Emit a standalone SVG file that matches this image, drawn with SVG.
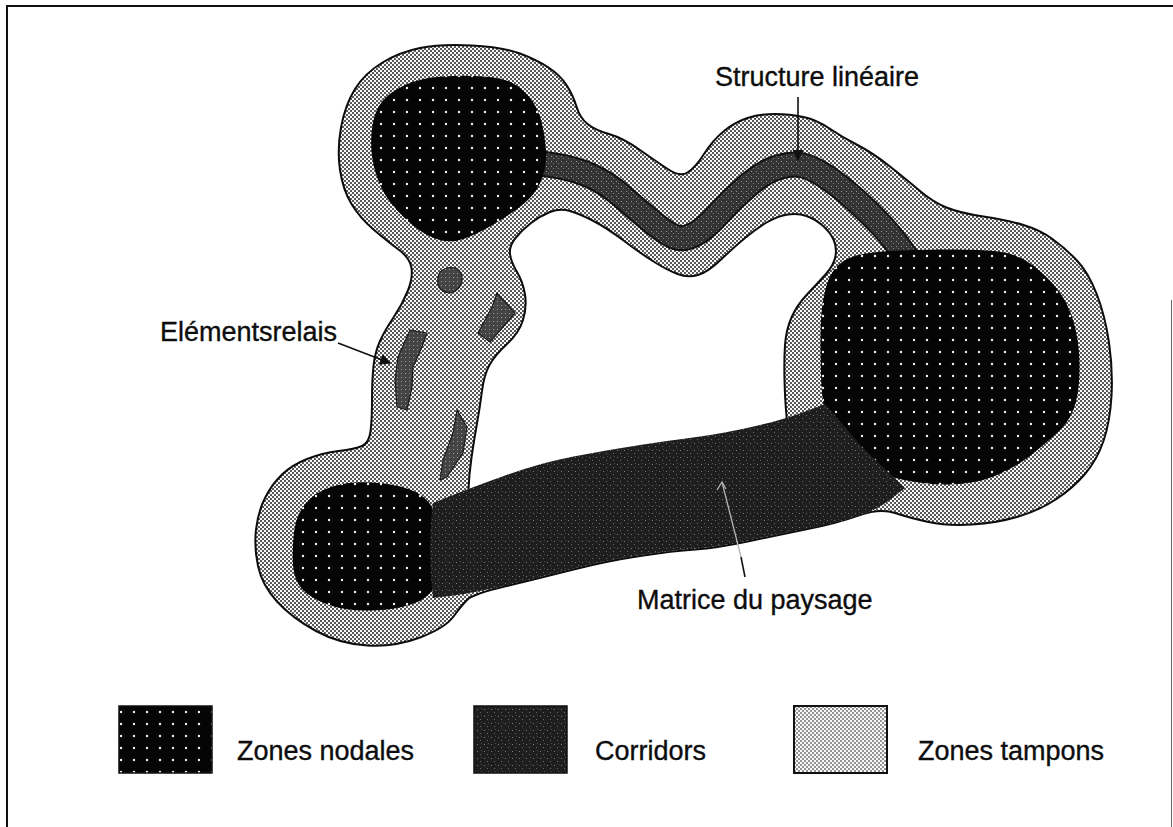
<svg xmlns="http://www.w3.org/2000/svg" width="1173" height="827" viewBox="0 0 1173 827">
<style>
.lbl{font-family:"Liberation Sans",Arial,Helvetica,sans-serif;font-size:27px;fill:#0d0d0d;stroke:#0d0d0d;stroke-width:0.35}
.buf{fill:url(#pB);fill-rule:evenodd;stroke:#0d0d0d;stroke-width:2;stroke-linejoin:round}
.nod{fill:url(#pN)}
.cor{fill:url(#pC)}
.rel{fill:url(#pR);stroke:#1a1a1a;stroke-width:1.2;stroke-linejoin:round}
.lead{stroke:#111;stroke-width:1.6;fill:none}
</style>
<defs>
<pattern id="pN" width="13" height="12" patternUnits="userSpaceOnUse">
<rect width="13" height="12" fill="#050505"/>
<circle cx="4" cy="4" r="1.2" fill="#f2f2f2"/>
</pattern>
<pattern id="pB" width="4" height="4" patternUnits="userSpaceOnUse">
<rect width="4" height="4" fill="#fafafa"/>
<circle cx="1" cy="1" r="0.92" fill="#111"/>
<circle cx="3" cy="3" r="0.92" fill="#111"/>
</pattern>
<pattern id="pL" width="4" height="4" patternUnits="userSpaceOnUse">
<rect width="4" height="4" fill="#fafafa"/>
<circle cx="1" cy="1" r="0.8" fill="#111"/>
<circle cx="3" cy="3" r="0.8" fill="#111"/>
</pattern>
<pattern id="pC" width="7" height="7" patternUnits="userSpaceOnUse">
<rect width="7" height="7" fill="#1e1e1e"/>
<rect x="1" y="2" width="1" height="1" fill="#7a7a7a"/>
<rect x="4" y="5" width="1" height="1" fill="#6a6a6a"/>
<rect x="5" y="1" width="1" height="1" fill="#4a4a4a"/>
</pattern>
<pattern id="pS" width="5" height="5" patternUnits="userSpaceOnUse">
<rect width="5" height="5" fill="#333"/>
<rect x="1" y="1" width="1" height="1" fill="#999"/>
<rect x="3" y="3" width="1" height="1" fill="#808080"/>
</pattern>
<pattern id="pR" width="4" height="4" patternUnits="userSpaceOnUse">
<rect width="4" height="4" fill="#444"/>
<rect x="1" y="1" width="1" height="1" fill="#999"/>
</pattern>
<marker id="ah" viewBox="0 0 10 10" refX="9" refY="5" markerWidth="11" markerHeight="11" markerUnits="userSpaceOnUse" orient="auto">
<path d="M0,0 L10,5 L0,10 Z" fill="#111"/>
</marker>
</defs>

<g id="frame" fill="none" stroke="#111">
<path d="M7,827 V6 H1173" stroke-width="2"/>
<path d="M1171.5,300 V827" stroke-width="1" stroke="#666"/>
</g>

<g id="zone-tampon">
<path class="buf" d="M340,170 Q337,150 341,127.5 Q345,105 355,89 Q365,73 382.5,62.5 Q400,52 420,48 Q440,44 471.5,45.5 Q503,47 520,53.5 Q537,60 548.5,67.5 Q560,75 566.5,85 Q573,95 576.5,106.5 Q580,118 587.5,124 Q595,130 609,134 Q623,138 640,150 Q657,162 668.5,169.5 Q680,177 687.5,172.5 Q695,168 704,154 Q713,140 724,131 Q735,122 747.5,118 Q760,114 775,114 Q790,114 803.5,117 Q817,120 829.5,128.5 Q842,137 857.5,145 Q873,153 890,166.5 Q907,180 920,191 Q933,202 946.5,207.5 Q960,213 983.5,216.5 Q1007,220 1023.5,225 Q1040,230 1052.5,239 Q1065,248 1076.5,260 Q1088,272 1096.5,293.5 Q1105,315 1109,342.5 Q1113,370 1111.5,396 Q1110,422 1103.5,441 Q1097,460 1085,474 Q1073,488 1056.5,499 Q1040,510 1018.5,516.5 Q997,523 972,524.5 Q947,526 928.5,522 Q910,518 895,513 Q880,508 858.5,515.5 Q837,523 810,528.5 Q783,534 750,541 Q717,548 695,549.5 Q673,551 640,556 Q607,561 573.5,569.5 Q540,578 506.5,586 Q473,594 467.5,599.5 Q462,605 453.5,616.5 Q445,628 420,637.5 Q395,647 367.5,645.5 Q340,644 316,631 Q292,618 277,601.5 Q262,585 258,566 Q254,547 256,529.5 Q258,512 265,498 Q272,484 282,474.5 Q292,465 307,459 Q322,453 338.5,451 Q355,449 362,446 Q369,443 370.5,431.5 Q372,420 372,400 Q372,380 373.5,366 Q375,352 380,341 Q385,330 393.5,317.5 Q402,305 407.5,291.5 Q413,278 411.5,268 Q410,258 398.5,249.5 Q387,241 373.5,229.5 Q360,218 351.5,204 Q343,190 340,170 Z M468.5,490 Q468,505 504,490 Q540,475 573.5,468.5 Q607,462 640,457 Q673,452 696.5,449 Q720,446 754,439 Q788,432 786.5,416 Q785,400 784.5,380 Q784,360 785,345 Q786,330 791.5,317.5 Q797,305 807,294.5 Q817,284 825.5,274.5 Q834,265 835.5,256 Q837,247 833.5,239.5 Q830,232 822.5,225.5 Q815,219 806.5,216 Q798,213 788,214.5 Q778,216 767.5,222 Q757,228 745,238 Q733,248 720.5,260 Q708,272 698,275 Q688,278 677.5,274 Q667,270 653.5,261.5 Q640,253 623.5,240.5 Q607,228 593.5,221 Q580,214 570,211 Q560,208 550,212 Q540,216 531,223 Q522,230 515.5,238 Q509,246 510,254 Q511,262 517,272 Q523,282 525,294.5 Q527,307 523,320 Q519,333 507,344 Q495,355 489.5,365 Q484,375 482,391 Q480,407 477,423.5 Q474,440 471.5,457.5 Q469,475 468.5,490 Z"/>
</g>

<g id="structure-lineaire">
<path d="M530,162 L551.5,165 Q573,168 590,175.5 Q607,183 623.5,197.5 Q640,212 653.5,223 Q667,234 675,237 Q683,240 693.5,235 Q704,230 718.5,214 Q733,198 749,184.5 Q765,171 779,167 Q793,163 803,165.5 Q813,168 826.5,177 Q840,186 855,199.5 Q870,213 882.5,226.5 Q895,240 912,265" fill="none" stroke="#111" stroke-width="26" stroke-linejoin="round"/>
<path d="M530,162 L551.5,165 Q573,168 590,175.5 Q607,183 623.5,197.5 Q640,212 653.5,223 Q667,234 675,237 Q683,240 693.5,235 Q704,230 718.5,214 Q733,198 749,184.5 Q765,171 779,167 Q793,163 803,165.5 Q813,168 826.5,177 Q840,186 855,199.5 Q870,213 882.5,226.5 Q895,240 912,265" fill="none" stroke="url(#pS)" stroke-width="22" stroke-linejoin="round"/>
</g>

<g id="zone-nodale-1">
<path class="nod" d="M372,156 Q370,140 372.5,125 Q375,110 382.5,101 Q390,92 405,85 Q420,78 442.5,76.5 Q465,75 484,76.5 Q503,78 512.5,83 Q522,88 530,98 Q538,108 541.5,121.5 Q545,135 546,150 Q547,165 542.5,177.5 Q538,190 529,199 Q520,208 500,220.5 Q480,233 465,238.5 Q450,244 435,238.5 Q420,233 404,217.5 Q388,202 381,187 Q374,172 372,156 Z"/>
</g>
<g id="zone-nodale-2">
<path class="nod" d="M821,375 Q820,340 821,320 Q822,300 827,284 Q832,268 843.5,261 Q855,254 877.5,252 Q900,250 940,249.5 Q980,249 999,251.5 Q1018,254 1033,265.5 Q1048,277 1058,290 Q1068,303 1073.5,321.5 Q1079,340 1079.5,362.5 Q1080,385 1076,401.5 Q1072,418 1061,429 Q1050,440 1032.5,454 Q1015,468 995,476 Q975,484 950,484.5 Q925,485 897.5,478.5 Q870,472 854,460 Q838,448 830,429 Q822,410 821,375 Z"/>
</g>
<g id="zone-nodale-3">
<path class="nod" d="M293,565 Q292,550 294,532.5 Q296,515 305.5,503.5 Q315,492 332.5,486.5 Q350,481 372.5,482.5 Q395,484 410,489.5 Q425,495 432.5,507.5 Q440,520 441,545 Q442,570 436,584 Q430,598 412.5,604 Q395,610 370,610.5 Q345,611 327.5,604.5 Q310,598 302,589 Q294,580 293,565 Z"/>
</g>

<g id="corridor">
<path class="cor" d="M433,503 L453,495 Q473,487 506.5,475 Q540,463 573.5,456.5 Q607,450 640,445 Q673,440 696.5,437 Q720,434 751.5,427 Q783,420 804,412 L825,404 L862,447 L905,488 L891,499 Q877,510 857,516.5 Q837,523 810,528 Q783,533 750,540 Q717,547 695,548.5 Q673,550 640,555 Q607,560 573.5,568.5 Q540,577 506.5,585 Q473,593 453,595.5 L433,598 Q427,550 433,503 Z"/>
</g>

<g id="elements-relais">
<path class="rel" d="M440,272 Q446,266 456,268 Q463,272 462,281 Q460,290 451,293 Q441,293 438,285 Q437,277 440,272 Z"/>
<path class="rel" d="M497,293 L515,313 L503,327 L490,342 L478,333 L492,307 Z"/>
<path class="rel" d="M410,330 L427,333 L422,347 L413,367 L412,387 L407,410 L397,407 L395,380 L398,357 Z"/>
<path class="rel" d="M457,410 L467,427 L463,453 L447,477 L440,480 L443,460 L453,433 Z"/>
</g>

<g id="connectors">
<line class="lead" x1="798" y1="97" x2="798" y2="160" marker-end="url(#ah)"/>
<line class="lead" x1="338" y1="343" x2="390" y2="363" marker-end="url(#ah)"/>
<line class="lead" x1="745" y1="577" x2="741" y2="557"/>
<line x1="741" y1="557" x2="722" y2="482" stroke="#b5b5b5" stroke-width="1.3"/>
<path d="M717,490 L722,482 L726,489" fill="none" stroke="#b5b5b5" stroke-width="1.3"/>
</g>

<g id="labels">
<text class="lbl" x="715" y="86">Structure linéaire</text>
<text class="lbl" x="160" y="341">Elémentsrelais</text>
<text class="lbl" x="637" y="609">Matrice du paysage</text>
</g>

<g id="legend">
<g id="legend-nodales">
<rect x="119" y="706" width="93" height="67" fill="url(#pN)" stroke="#111" stroke-width="1.5"/>
<text class="lbl" x="237" y="760">Zones nodales</text>
</g>
<g id="legend-corridors">
<rect x="474" y="706" width="93" height="67" fill="url(#pC)" stroke="#111" stroke-width="1.5"/>
<text class="lbl" x="595" y="760">Corridors</text>
</g>
<g id="legend-tampons">
<rect x="794" y="706" width="93" height="67" fill="url(#pL)" stroke="#111" stroke-width="2"/>
<text class="lbl" x="918" y="760">Zones tampons</text>
</g>
</g>
</svg>
